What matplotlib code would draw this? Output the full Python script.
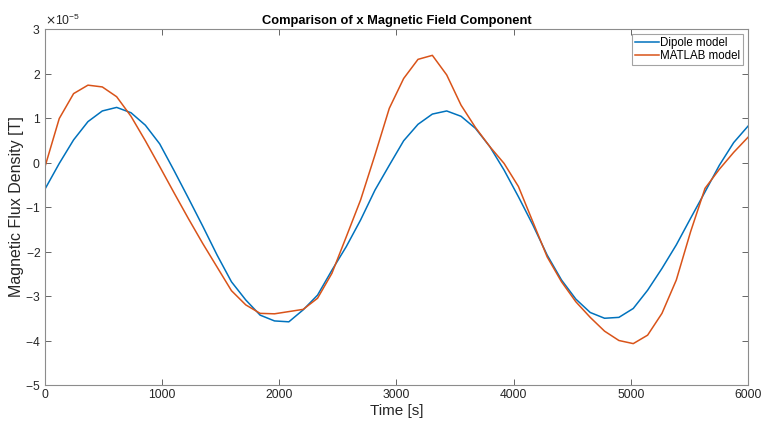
import numpy as np
import matplotlib
matplotlib.use("Agg")
import matplotlib.pyplot as plt
from matplotlib.ticker import ScalarFormatter

plt.rcParams['font.family'] = ['Liberation Sans', 'DejaVu Sans']
plt.rcParams['axes.unicode_minus'] = False

# tiempo [s], 50 muestras de 0 a 6000
tiempo = np.linspace(0, 6000, 50)

# Bx en unidades de 1e-5 T
dipolo = [-0.60, -0.02, 0.51, 0.92, 1.16, 1.24, 1.12, 0.84, 0.42, -0.18,
          -0.80, -1.43, -2.08, -2.68, -3.09, -3.43, -3.56, -3.58, -3.31, -2.98,
          -2.42, -1.89, -1.29, -0.62, -0.06, 0.49, 0.86, 1.09, 1.16, 1.04,
          0.77, 0.36, -0.17, -0.77, -1.40, -2.08, -2.64, -3.07, -3.37, -3.50,
          -3.48, -3.28, -2.87, -2.38, -1.85, -1.25, -0.66, -0.06, 0.45, 0.82]
matlab = [-0.10, 0.99, 1.55, 1.74, 1.70, 1.48, 1.04, 0.49, -0.09, -0.68,
          -1.26, -1.82, -2.35, -2.88, -3.20, -3.39, -3.40, -3.35, -3.30, -3.05,
          -2.49, -1.67, -0.84, 0.17, 1.22, 1.89, 2.32, 2.41, 1.97, 1.29,
          0.79, 0.36, -0.02, -0.54, -1.33, -2.12, -2.68, -3.13, -3.48, -3.79,
          -4.00, -4.07, -3.88, -3.39, -2.64, -1.55, -0.58, -0.15, 0.23, 0.57]

escala = 1e-5
gris = '#4d4d4d'

fig = plt.figure(figsize=(7.61, 4.28), dpi=100)
ax = fig.add_axes([0.059, 0.1005, 0.924, 0.8315])

ax.plot(tiempo, np.array(dipolo) * escala, color='#0072BD', lw=1.1, label='Dipole model')
ax.plot(tiempo, np.array(matlab) * escala, color='#D95319', lw=1.1, label='MATLAB model')

ax.set_xlim(0, 6000)
ax.set_ylim(-5e-5, 3e-5)
ax.set_xticks(np.arange(0, 6001, 1000))
ax.set_yticks(np.arange(-5, 4) * escala)

fmt = ScalarFormatter(useMathText=True)
fmt.set_powerlimits((0, 0))
ax.yaxis.set_major_formatter(fmt)
ax.yaxis.get_offset_text().set_fontsize(8.7)
ax.yaxis.get_offset_text().set_color('#262626')

ax.tick_params(direction='in', top=True, right=True, length=4, width=0.6,
               labelsize=8.7, colors=gris, labelcolor='#262626', pad=3)
for lado in ax.spines.values():
    lado.set_color('#8c8c8c')
    lado.set_linewidth(0.8)

ax.set_xlabel('Time [s]', fontsize=11, color='#262626', labelpad=2)
ax.set_ylabel('Magnetic Flux Density [T]', fontsize=11.5, color='#262626', labelpad=1)
ax.set_title('Comparison of x Magnetic Field Component', fontsize=9.3,
             fontweight='bold', pad=4)

leg = ax.legend(loc='upper right', fontsize=8.3, frameon=True, fancybox=False,
                edgecolor='#8c8c8c', borderpad=0.25, handlelength=2.1,
                handletextpad=0.15, labelspacing=0.1, borderaxespad=0.4)
leg.get_frame().set_linewidth(0.8)

fig.savefig('out.png', dpi=100)
